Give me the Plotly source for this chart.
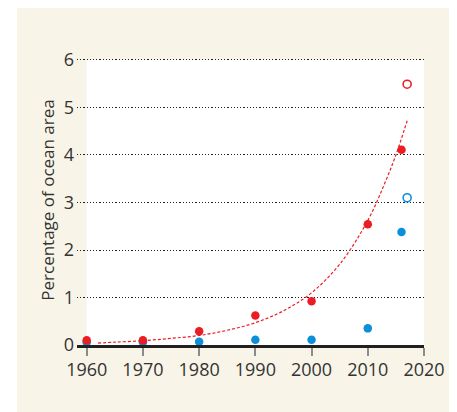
import plotly.graph_objects as go

years = [1960, 1970, 1980, 1990, 2000, 2010, 2016]
red_vals = [0.10, 0.10, 0.29, 0.62, 0.92, 2.54, 4.11]
blue_vals = [0.06, 0.06, 0.07, 0.11, 0.11, 0.35, 2.38]
proj_year = [2017]
red_proj = [5.49]
blue_proj = [3.10]
trend_years = [1962, 1965, 1970, 1975, 1980, 1985, 1990, 1995, 2000, 2005, 2010, 2013, 2015, 2017]
trend_vals = [0.04, 0.06, 0.09, 0.14, 0.20, 0.31, 0.47, 0.72, 1.10, 1.70, 2.62, 3.40, 4.00, 4.72]
x_ticks = [1960, 1970, 1980, 1990, 2000, 2010, 2020]
y_ticks = [0, 1, 2, 3, 4, 5, 6]

RED = "#ec1c24"
BLUE = "#0a8fd8"
CREAM = "#f8f5e8"
TXT = "#333333"

fig = go.Figure()
fig.add_trace(go.Scatter(x=trend_years, y=trend_vals, mode="lines",
                         line=dict(color=RED, width=1.2, dash="3px,2px", shape="spline"),
                         hoverinfo="skip", cliponaxis=False))
fig.add_trace(go.Scatter(x=years, y=blue_vals, mode="markers",
                         marker=dict(color=BLUE, size=8.5, line=dict(width=0)), cliponaxis=False))
fig.add_trace(go.Scatter(x=years, y=red_vals, mode="markers",
                         marker=dict(color=RED, size=8.5, line=dict(width=0)), cliponaxis=False))
fig.add_trace(go.Scatter(x=proj_year, y=red_proj, mode="markers",
                         marker=dict(color="white", size=8, line=dict(width=1.6, color=RED)), cliponaxis=False))
fig.add_trace(go.Scatter(x=proj_year, y=blue_proj, mode="markers",
                         marker=dict(color="white", size=8, line=dict(width=1.6, color=BLUE)), cliponaxis=False))

fig.update_layout(
    width=449, height=404,
    margin=dict(l=69, r=33, t=47, b=67, autoexpand=False),
    paper_bgcolor="white",
    plot_bgcolor=CREAM,
    showlegend=False,
    font=dict(family="Open Sans", color=TXT, size=18),
    shapes=[
        dict(type="rect", xref="paper", yref="paper", x0=-0.173, x1=1.2, y0=-0.3, y1=1.3,
             fillcolor=CREAM, line=dict(width=0), layer="below"),
        dict(type="rect", xref="x", yref="y", x0=x_ticks[0], x1=x_ticks[-1], y0=y_ticks[0], y1=y_ticks[-1],
             fillcolor="white", line=dict(width=0), layer="below"),
    ],
)
fig.update_xaxes(range=[1958.27, 2020], tickvals=x_ticks, showgrid=False, zeroline=False,
                 showline=True, linecolor="#231f20", linewidth=3, automargin=False,
                 ticks="outside", ticklen=8, tickcolor="#8a8a8a", tickwidth=1.5,
                 ticklabelstandoff=-2, tickfont=dict(size=18, color=TXT))
fig.update_yaxes(range=[0, 6.105], tickvals=y_ticks, showgrid=True, gridcolor="#222222", gridwidth=1.4,
                 griddash="1.2px,2px", zeroline=False, showline=False, ticks="", ticklabelstandoff=2,
                 automargin=False, tickfont=dict(size=18, color=TXT),
                 title=dict(text="Percentage of ocean area", font=dict(size=17, color=TXT), standoff=4))

fig.write_html("out.html")
